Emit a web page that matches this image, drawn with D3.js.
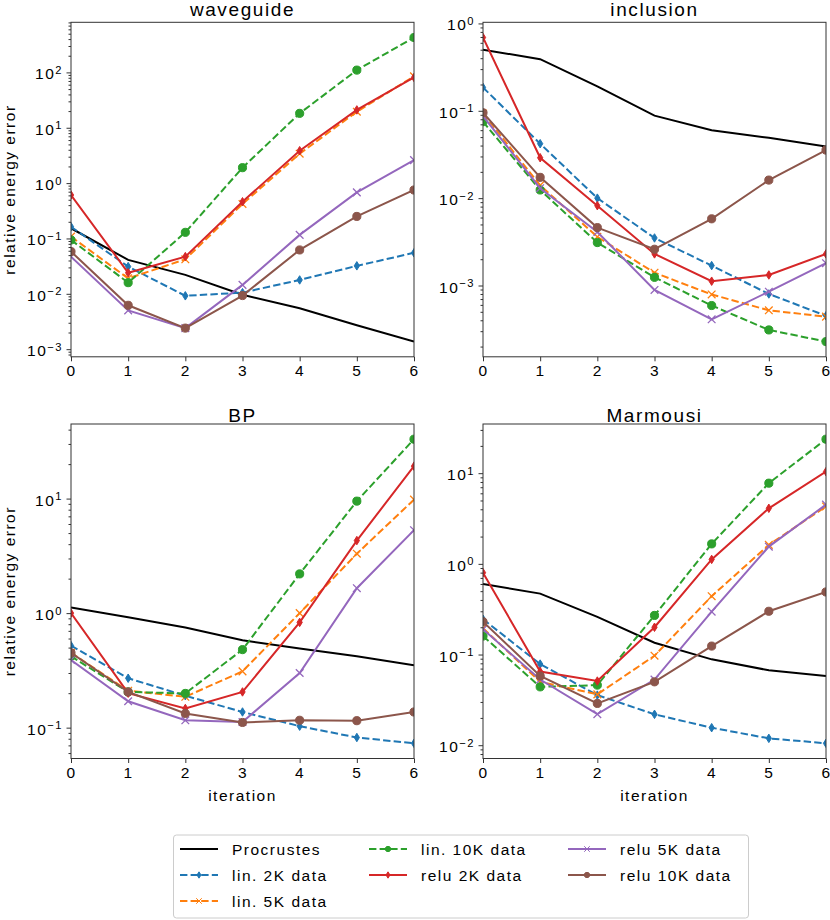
<!DOCTYPE html>
<html>
<head>
<meta charset="utf-8">
<script src="https://cdn.jsdelivr.net/npm/d3@7"></script>
<style>
  body { margin: 0; background: #fff; }
  text { font-family: "Liberation Sans", Arial, sans-serif; fill: #000; }
</style>
</head>
<body>
<div class="svg"></div>
<script>
//Config
var width = 830,
    height = 920;

var panelLeft = [71, 483],
    panelTop = [22.3, 424],
    panelWidth = 343,
    panelHeight = 334.5;

//Data
var iterations = [0, 1, 2, 3, 4, 5, 6];

var seriesNames = ["Procrustes", "lin. 2K data", "lin. 5K data", "lin. 10K data",
                   "relu 2K data", "relu 5K data", "relu 10K data"];

var panelTitles = ["waveguide", "inclusion", "BP", "Marmousi"];

// one row per series, in seriesNames order
var waveguide = [
  [0.153, 0.041, 0.022, 0.0096, 0.0055, 0.0027, 0.00137],
  [0.163, 0.031, 0.0092, 0.0105, 0.0178, 0.032, 0.055],
  [0.108, 0.019, 0.042, 0.42, 3.4, 19.5, 85],
  [0.094, 0.0159, 0.129, 1.9, 18.2, 110, 427],
  [0.61, 0.024, 0.047, 0.46, 3.85, 21, 81],
  [0.047, 0.005, 0.0024, 0.0145, 0.116, 0.68, 2.6],
  [0.058, 0.0062, 0.0024, 0.0093, 0.062, 0.25, 0.75]
];

var inclusion = [
  [0.50, 0.39, 0.19, 0.088, 0.060, 0.049, 0.039],
  [0.185, 0.042, 0.010, 0.0035, 0.00169, 0.0008, 0.00045],
  [0.093, 0.014, 0.0036, 0.0014, 0.00079, 0.00052, 0.00044],
  [0.075, 0.0124, 0.0031, 0.00124, 0.00059, 0.00031, 0.000228],
  [0.69, 0.029, 0.0082, 0.0023, 0.00112, 0.00132, 0.0023],
  [0.087, 0.013, 0.0041, 0.00089, 0.00041, 0.00085, 0.0018],
  [0.095, 0.0173, 0.0046, 0.0026, 0.0058, 0.0161, 0.0355]
];

var bp = [
  [1.12, 0.92, 0.75, 0.58, 0.49, 0.42, 0.35],
  [0.52, 0.27, 0.19, 0.137, 0.103, 0.082, 0.073],
  [0.45, 0.21, 0.186, 0.31, 1.0, 3.3, 9.8],
  [0.42, 0.205, 0.199, 0.48, 2.2, 9.5, 33],
  [1.0, 0.2, 0.147, 0.205, 0.83, 4.3, 19.2],
  [0.39, 0.17, 0.116, 0.112, 0.30, 1.65, 5.3],
  [0.45, 0.205, 0.133, 0.111, 0.116, 0.115, 0.137]
];

var marmousi = [
  [0.60, 0.47, 0.26, 0.135, 0.0885, 0.067, 0.058],
  [0.245, 0.0785, 0.0357, 0.0219, 0.0156, 0.0119, 0.0105],
  [0.195, 0.050, 0.0364, 0.097, 0.44, 1.62, 4.3],
  [0.16, 0.044, 0.046, 0.27, 1.66, 7.76, 23.7],
  [0.8, 0.065, 0.051, 0.2, 1.12, 4.1, 10.4],
  [0.19, 0.053, 0.022, 0.053, 0.297, 1.55, 4.5],
  [0.23, 0.058, 0.0289, 0.050, 0.124, 0.30, 0.49]
];

var panelData = [waveguide, inclusion, bp, marmousi];

//Styles
var seriesColors = ["#000000", "#1f77b4", "#ff7f0e", "#2ca02c", "#d62728", "#9467bd", "#8c564b"];
var seriesDashed = [false, true, true, true, false, false, false];

d3.symbolThinDiamond = {
  draw: function(context, size) {
    var hy = Math.sqrt(size) / 2,
        hx = hy * 0.62;
    context.moveTo(0, -hy);
    context.lineTo(hx, 0);
    context.lineTo(0, hy);
    context.lineTo(-hx, 0);
    context.closePath();
  }
};

var seriesMarkers = [null, d3.symbolThinDiamond, d3.symbolTimes, d3.symbolCircle,
                     d3.symbolThinDiamond, d3.symbolTimes, d3.symbolCircle];
var markerSizes = { plot: [0, 72, 40, 52, 72, 40, 52], legend: [0, 40, 22, 22, 40, 22, 22] };

var dash = "7.4,3.2";
var fontSize = 15.5,
    spacing = 1.5;

//Instance element
var svg = d3.select(".svg")
  .append("svg")
  .attr("width", width)
  .attr("height", height);

function superscript(exp) {
  return (exp < 0 ? "\u2212" : "") + Math.abs(exp);
}

function drawPanel(p) {
  var col = p % 2,
      row = Math.floor(p / 2),
      data = panelData[p];

  var g = svg.append("g")
    .attr("transform", "translate(" + panelLeft[col] + "," + panelTop[row] + ")");

  //Log domain with a 5% margin like matplotlib
  var all = d3.merge(data),
      lo = Math.log10(d3.min(all)),
      hi = Math.log10(d3.max(all)),
      pad = (hi - lo) * 0.05;

  var x = d3.scaleLinear()
    .domain([0, 6])
    .range([0, panelWidth]);

  var y = d3.scaleLog()
    .domain([Math.pow(10, lo - pad), Math.pow(10, hi + pad)])
    .range([panelHeight, 0]);

  var majors = [], minors = [];
  for (var k = Math.floor(lo - pad); k <= Math.ceil(hi + pad); k++) {
    var v = Math.pow(10, k);
    if (k >= lo - pad && k <= hi + pad) majors.push(v);
    for (var m = 2; m < 10; m++) {
      var mv = m * v, lm = Math.log10(mv);
      if (lm >= lo - pad && lm <= hi + pad) minors.push(mv);
    }
  }

  //Clip
  g.append("clipPath")
    .attr("id", "clip" + p)
    .append("rect")
    .attr("width", panelWidth)
    .attr("height", panelHeight);

  //Axes
  var yMinor = g.append("g")
    .call(d3.axisLeft(y).tickValues(minors).tickSize(2.5).tickFormat(""));

  var yMajor = g.append("g")
    .call(d3.axisLeft(y).tickValues(majors).tickSize(4.5).tickPadding(3.5));

  yMajor.selectAll(".tick text")
    .each(function(d) {
      var t = d3.select(this),
          e = Math.round(Math.log10(d));
      t.text(null);
      t.append("tspan").text("10");
      t.append("tspan")
        .attr("dy", "-0.5em")
        .style("font-size", "0.72em")
        .text(superscript(e));
    })
    .attr("dy", "0.42em");

  var xAxis = g.append("g")
    .attr("transform", "translate(0," + panelHeight + ")")
    .call(d3.axisBottom(x).tickValues(iterations).tickSize(4.5).tickPadding(4)
      .tickFormat(d3.format("d")));

  [yMinor, yMajor, xAxis].forEach(function(a) {
    a.select(".domain").remove();
    a.selectAll(".tick line").attr("stroke", "#333").attr("stroke-width", 1);
    a.selectAll("text")
      .style("font-family", "\"Liberation Sans\", Arial, sans-serif")
      .style("font-size", fontSize + "px")
      .style("letter-spacing", spacing + "px")
      .attr("fill", "#000");
  });

  //Lines
  var plot = g.append("g").attr("clip-path", "url(#clip" + p + ")");

  var line = d3.line()
    .x(function(d, i) { return x(iterations[i]); })
    .y(function(d) { return y(d); });

  data.forEach(function(values, s) {
    plot.append("path")
      .datum(values)
      .attr("d", line)
      .style("fill", "none")
      .style("stroke", seriesColors[s])
      .style("stroke-width", 2)
      .style("stroke-dasharray", seriesDashed[s] ? dash : null);

    if (seriesMarkers[s]) {
      var sym = d3.symbol().type(seriesMarkers[s]).size(markerSizes.plot[s]);
      var stroked = seriesMarkers[s] === d3.symbolTimes;
      plot.selectAll(".m" + s)
        .data(values)
        .enter()
        .append("path")
        .attr("class", "m" + s)
        .attr("transform", function(d, i) { return "translate(" + x(iterations[i]) + "," + y(d) + ")"; })
        .attr("d", sym())
        .style("fill", stroked ? "none" : seriesColors[s])
        .style("stroke", seriesColors[s])
        .style("stroke-width", stroked ? 1.3 : 1);
    }
  });

  //Frame
  g.append("rect")
    .attr("width", panelWidth)
    .attr("height", panelHeight)
    .style("fill", "none")
    .style("stroke", "#333")
    .style("stroke-width", 1);

  //Title
  g.append("text")
    .attr("x", panelWidth / 2)
    .attr("y", row === 0 ? -6.5 : -2.5)
    .style("text-anchor", "middle")
    .style("font-size", "19px")
    .style("letter-spacing", "1.6px")
    .text(panelTitles[p]);

  if (col === 0) {
    g.append("text")
      .attr("transform", "translate(" + (-56) + "," + (panelHeight / 2) + ") rotate(-90)")
      .style("text-anchor", "middle")
      .style("font-size", fontSize + "px")
      .style("letter-spacing", spacing + "px")
      .text("relative energy error");
  }

  if (row === 1) {
    g.append("text")
      .attr("x", panelWidth / 2)
      .attr("y", panelHeight + 42)
      .style("text-anchor", "middle")
      .style("font-size", fontSize + "px")
      .style("letter-spacing", spacing + "px")
      .text("iteration");
  }
}

for (var p = 0; p < 4; p++) drawPanel(p);

//Legend
var legendCols = [180, 369, 568],
    legendRows = [849, 875, 901],
    legendSlots = [[0, 0], [0, 1], [0, 2], [1, 0], [1, 1], [2, 0], [2, 1]];

var legend = svg.append("g");

legend.append("rect")
  .attr("x", 173.5)
  .attr("y", 835)
  .attr("width", 575)
  .attr("height", 83)
  .attr("rx", 3)
  .style("fill", "white")
  .style("stroke", "#cccccc")
  .style("stroke-width", 1);

seriesNames.forEach(function(name, s) {
  var lx = legendCols[legendSlots[s][0]],
      ly = legendRows[legendSlots[s][1]];

  var item = legend.append("g")
    .attr("transform", "translate(" + lx + "," + ly + ")");

  item.append("line")
    .attr("x1", 0)
    .attr("x2", 38)
    .style("stroke", seriesColors[s])
    .style("stroke-width", 2)
    .style("stroke-dasharray", seriesDashed[s] ? dash : null);

  if (seriesMarkers[s]) {
    var stroked = seriesMarkers[s] === d3.symbolTimes;
    item.append("path")
      .attr("transform", "translate(19,0)")
      .attr("d", d3.symbol().type(seriesMarkers[s]).size(markerSizes.legend[s])())
      .style("fill", stroked ? "none" : seriesColors[s])
      .style("stroke", seriesColors[s])
      .style("stroke-width", 1);
  }

  item.append("text")
    .attr("x", 52)
    .attr("y", 5.5)
    .style("font-size", fontSize + "px")
    .style("letter-spacing", spacing + "px")
    .text(name);
});
</script>
</body>
</html>
